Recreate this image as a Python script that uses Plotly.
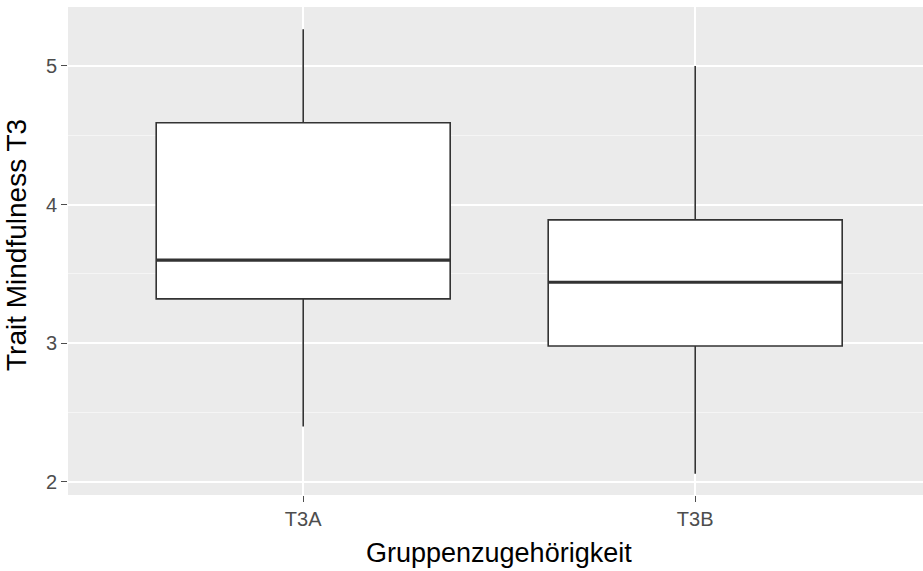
import plotly.graph_objects as go

categories = ["T3A", "T3B"]
lower_whisker = [2.40, 2.06]
q1_values = [3.32, 2.98]
median_values = [3.60, 3.44]
q3_values = [4.59, 3.89]
upper_whisker = [5.265, 5.00]
y_ticks = [2, 3, 4, 5]

BOX_W = 0.75
positions = list(range(len(categories)))

fig = go.Figure()
fig.add_trace(go.Box(
    x=positions, q1=q1_values, median=median_values, q3=q3_values,
    lowerfence=lower_whisker, upperfence=upper_whisker,
    width=BOX_W, whiskerwidth=0, fillcolor="white",
    line=dict(color="#333333", width=1.6), boxpoints=False,
    showlegend=False, hoverinfo="skip",
))

mx, my = [], []
for p, m in zip(positions, median_values):
    mx += [p - BOX_W / 2, p + BOX_W / 2, None]
    my += [m, m, None]
fig.add_trace(go.Scatter(x=mx, y=my, mode="lines",
                         line=dict(color="#333333", width=3.2),
                         showlegend=False, hoverinfo="skip"))

L, T, B = 68, 7, 76
W, H = 923, 571
pw, ph = W - L, H - T - B
unit = 392.0
fig.update_layout(
    width=W, height=H,
    margin=dict(l=L, r=0, t=T, b=B, pad=0),
    paper_bgcolor="white", plot_bgcolor="#EBEBEB",
    font=dict(family="Liberation Sans, Arial, sans-serif", color="#4D4D4D"),
    xaxis=dict(range=[-0.6, -0.6 + pw / unit], tickvals=positions, ticktext=categories,
               showgrid=True, gridcolor="white", gridwidth=1.8, zeroline=False,
               ticks="outside", ticklen=6, tickwidth=1.3, tickcolor="#4D4D4D",
               tickfont=dict(size=20, color="#4D4D4D"), showline=False,
               fixedrange=True),
    yaxis=dict(range=[1.906, 5.425], tickvals=y_ticks,
               showgrid=True, gridcolor="white", gridwidth=1.8, zeroline=False,
               ticks="outside", ticklen=6, tickwidth=1.3, tickcolor="#4D4D4D",
               tickfont=dict(size=20, color="#4D4D4D"), showline=False,
               minor=dict(tick0=1.5, dtick=1, showgrid=True, gridcolor="#F5F5F5",
                          gridwidth=1, ticks=""),
               fixedrange=True),
    annotations=[
        dict(text="Gruppenzugehörigkeit", xref="paper", yref="paper",
             x=(499 - L) / pw, y=(T + ph - 553) / ph, xanchor="center", yanchor="middle",
             showarrow=False, font=dict(size=27, color="black")),
        dict(text="Trait Mindfulness T3", xref="paper", yref="paper",
             x=(16 - L) / pw, y=(T + ph - 245) / ph, xanchor="center", yanchor="middle",
             textangle=-90, showarrow=False, font=dict(size=28, color="black")),
    ],
)

fig.write_html("out.html", config={"displayModeBar": False},
               post_script="document.body.style.margin='0';document.body.style.overflow='hidden';")
